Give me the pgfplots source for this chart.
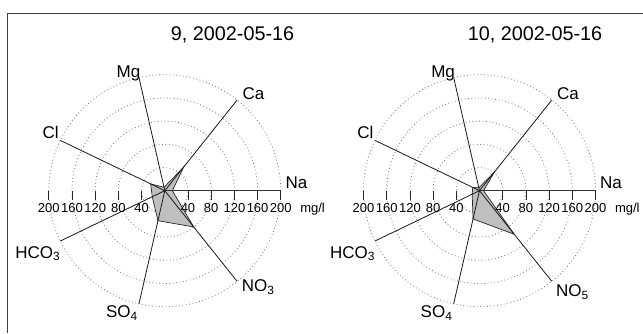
\documentclass[border=0pt]{standalone}
\usepackage{pgfplots}
\pgfplotsset{compat=1.18}
\usepgfplotslibrary{polar}
\usetikzlibrary{calc}
\usepackage{fontspec}
\setmainfont{Liberation Sans}

\newcommand\lab{\fontsize{17}{19}\selectfont}
\newcommand\tck{\fontsize{13}{15}\selectfont}
\newcommand\ttl{\fontsize{19.8}{22}\selectfont}

\begin{document}
\begin{tikzpicture}[x=1pt,y=1pt]
\useasboundingbox (0,0) rectangle (643,333);
\draw[line width=1.3pt, black!75] (7.3,0) -- (7.3,319.7) -- (643,319.7);

\coordinate (A) at (164.8,142.3);
\coordinate (B) at (479.5,142.3);

% dotted rings
\foreach \c in {A,B}{
  \foreach \r in {23.2,46.4,69.6,92.8,116}{
    \draw[black!55, line width=0.8pt, dash pattern=on 0.8pt off 2.6pt] (\c) circle[radius=\r];
  }
}

\begin{axis}[at={(A)}, anchor=center, scale only axis, width=232pt, height=232pt,
  xmin=-200, xmax=200, ymin=-200, ymax=200, hide axis, clip=false]
\addplot[data cs=polar, fill=black!25, draw=black!85, line width=0.7pt] coordinates {
  (0,13) (51.43,52) (102.86,6) (154.29,27) (205.71,24) (257.14,53) (308.57,80) (360,13)};
\end{axis}

\begin{axis}[at={(B)}, anchor=center, scale only axis, width=232pt, height=232pt,
  xmin=-200, xmax=200, ymin=-200, ymax=200, hide axis, clip=false]
\addplot[data cs=polar, fill=black!25, draw=black!85, line width=0.7pt] coordinates {
  (0,7) (51.43,41) (102.86,5) (154.29,13) (205.71,14) (257.14,50) (308.57,96) (360,7)};
\end{axis}

% spokes, axis and ticks
\foreach \c in {A,B}{
  \foreach \a in {51.43,102.86,154.29,205.71,257.14,308.57}{
    \draw[line width=0.8pt, black!90] (\c) -- ++(\a:116);
  }
  \draw[line width=1.4pt, black!80] (\c) -- ++(0:116);
  \foreach \t [count=\i] in {40,80,120,160,200}{
    \draw[line width=0.8pt, black!85] (\c) ++(\i*23.2,0) -- ++(0,-9);
    \draw[line width=0.8pt, black!85] (\c) ++(-\i*23.2,0) -- ++(0,-9);
    \node[anchor=base, inner sep=0pt, font=\tck] at ($(\c)+(\i*23.2,-21.8)$) {\t};
    \node[anchor=base, inner sep=0pt, font=\tck] at ($(\c)+(-\i*23.2,-21.8)$) {\t};
  }
  \node[anchor=base west, inner sep=0pt, font=\tck] at ($(\c)+(135.3,-21.8)$) {mg/l};
  \node[anchor=base west, inner sep=0pt, font=\lab] at ($(\c)+(120.5,2.2)$) {Na};
  \node[anchor=base west, inner sep=0pt, font=\lab] at ($(\c)+(77.5,91)$) {Ca};
  \node[anchor=base west, inner sep=0pt, font=\lab] at ($(\c)+(-48.4,113.6)$) {Mg};
  \node[anchor=base west, inner sep=0pt, font=\lab] at ($(\c)+(-122.4,52.6)$) {Cl};
  \node[anchor=base west, inner sep=0pt, font=\lab] at ($(\c)+(-149.7,-67.6)$) {HCO\textsubscript{3}};
  \node[anchor=base west, inner sep=0pt, font=\lab] at ($(\c)+(-59,-126.8)$) {SO\textsubscript{4}};
}
\node[anchor=base west, inner sep=0pt, font=\lab] at ($(A)+(76.9,-101)$) {NO\textsubscript{3}};
\node[anchor=base west, inner sep=0pt, font=\lab] at ($(B)+(76.5,-106)$) {NO\textsubscript{5}};

\node[anchor=base west, inner sep=0pt, font=\ttl] at (170.7,293) {9, 2002-05-16};
\node[anchor=base west, inner sep=0pt, font=\ttl] at (467.7,293) {10, 2002-05-16};
\end{tikzpicture}
\end{document}
